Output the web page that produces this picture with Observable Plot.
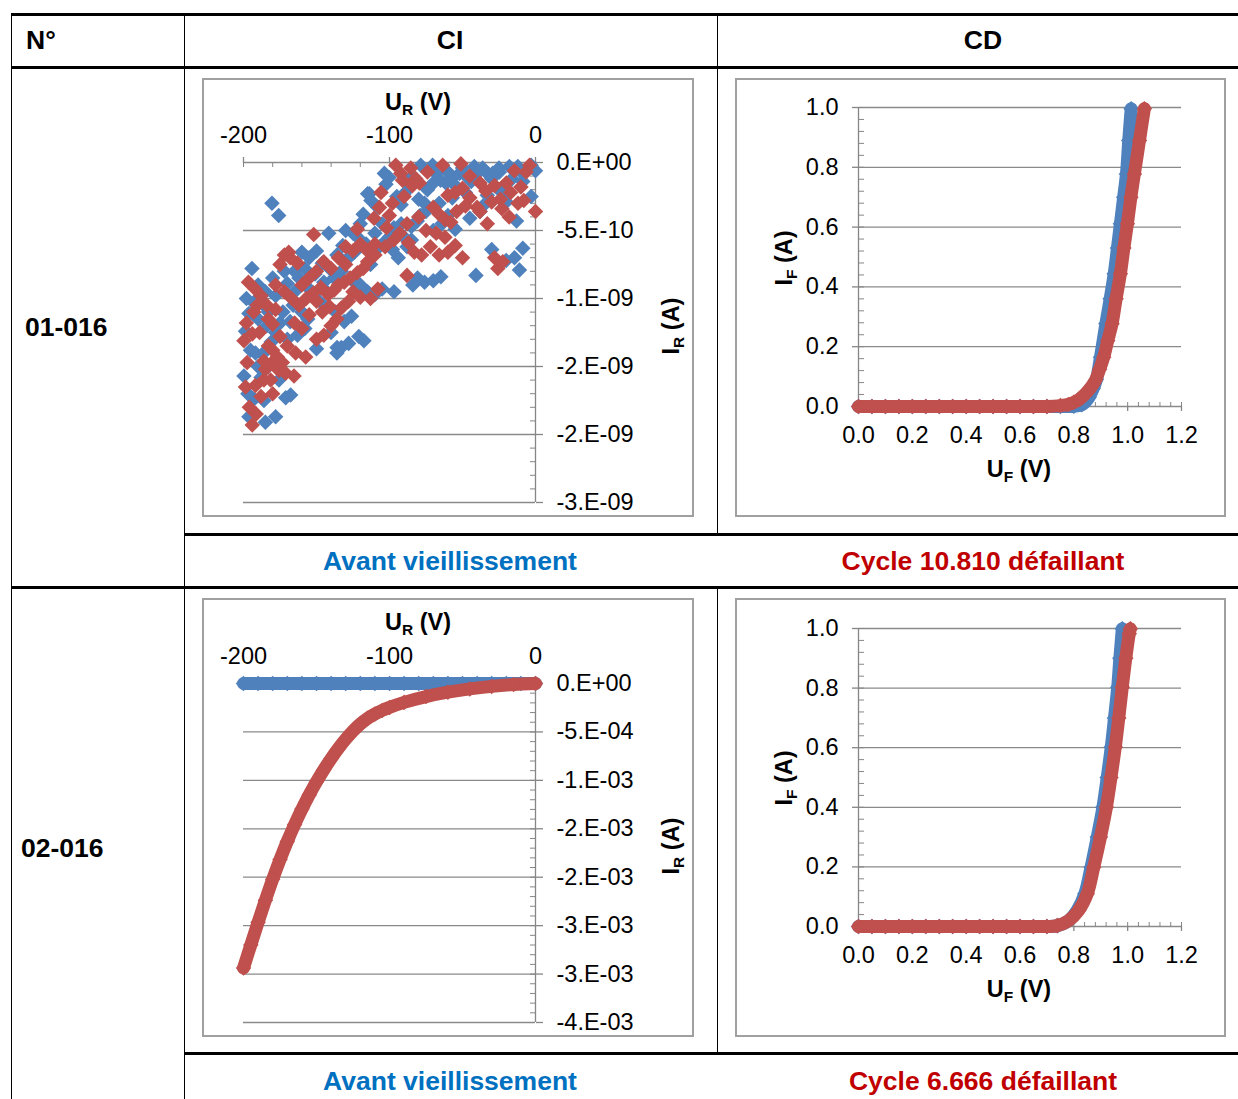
<!DOCTYPE html>
<html><head><meta charset="utf-8">
<script src="https://cdn.jsdelivr.net/npm/d3@7"></script>
<script src="https://cdn.jsdelivr.net/npm/@observablehq/plot@0.6"></script>
<style>
body{margin:0;background:#fff;font-family:"Liberation Sans",Arial,sans-serif;}
#page{position:relative;width:1238px;height:1099px;overflow:hidden;background:#fff;}
.hl{position:absolute;background:#000;height:3px;}
.vl{position:absolute;background:#000;width:1px;}
.t{position:absolute;font-weight:bold;font-size:26.5px;white-space:nowrap;transform:translate(-50%,-50%);line-height:1;}
.tl{position:absolute;font-weight:bold;font-size:26.5px;white-space:nowrap;transform:translate(0,-50%);line-height:1;}
.box{position:absolute;border:2px solid #a0a0a0;box-sizing:border-box;}
.ax{position:absolute;font-weight:bold;font-size:23.5px;white-space:nowrap;transform:translate(-50%,-50%);line-height:1;}
.ax sub{font-size:0.66em;vertical-align:-0.28em;line-height:0;}
.rot{transform:translate(-50%,-50%) rotate(-90deg);}
.chart{position:absolute;}
.chart svg{overflow:visible;}
</style></head><body><div id="page"></div>
<script>
// ---------- DATA ----------
const BLUE = "#4F81BD", RED = "#C0504D";
const headers = ["N°", "CI", "CD"];
const rowIds = ["01-016", "02-016"];
const captionsBefore = ["Avant vieillissement", "Avant vieillissement"];
const captionsAfter = ["Cycle 10.810 défaillant", "Cycle 6.666 défaillant"];

// CI axes (U_R in V)
const ciXTicks = [-200, -100, 0];
const ciXLabels = ["-200", "-100", "0"];
const ciXMinor = [-200, -180, -160, -140, -120, -100, -80, -60, -40, -20, 0];
// CI chart 1, I_R in nA
const ci1YTicks = [0, -0.5, -1, -1.5, -2, -2.5];
const ci1YLabels = ["0.E+00", "-5.E-10", "-1.E-09", "-2.E-09", "-2.E-09", "-3.E-09"];
// CI chart 2, I_R in mA
const ci2YTicks = [0, -0.5, -1, -1.5, -2, -2.5, -3, -3.5];
const ci2YLabels = ["0.E+00", "-5.E-04", "-1.E-03", "-2.E-03", "-2.E-03", "-3.E-03", "-3.E-03", "-4.E-03"];

// CD axes
const cdXTicks = [0, 0.2, 0.4, 0.6, 0.8, 1.0, 1.2];
const cdXLabels = ["0.0", "0.2", "0.4", "0.6", "0.8", "1.0", "1.2"];
const cdYTicks = [0, 0.2, 0.4, 0.6, 0.8, 1.0];
const cdYLabels = ["0.0", "0.2", "0.4", "0.6", "0.8", "1.0"];

// CI 01-016 : [U_R (V), I_R (nA)]
const ci1Blue = [
[-103.5,-0.08],[-102.4,-0.16],[-113.8,-0.23],[-112.7,-0.28],[-100.3,-0.11],[-115,-0.23],
[-78.6,-0.02],[-70.5,-0.02],[-41.9,-0.03],[-36.2,-0.04],[-17.9,-0.03],[-12.1,-0.03],[0,-0.06],[-3,-0.02],
[-8.7,-0.14],[-9.8,-0.07],[-68.2,-0.08],[-65,-0.13],[-61.4,-0.15],[-56.8,-0.11],[-52,-0.08],[-47.6,-0.10],
[-44,-0.14],[-40.8,-0.09],[-33.9,-0.07],[-29.3,-0.08],[-24.7,-0.07],[-30,-0.12],[-55,-0.17],[-60,-0.07],
[-86,-0.18],[-90,-0.23],[-66,-0.30],[-57,-0.26],[-22,-0.26],[-20,-0.29],[-33,-0.24],[-36,-0.32],[-13,-0.43],
[-48,-0.22],[-74,-0.20],[-80,-0.27],[-95,-0.25],[-108,-0.33],[-84,-0.10],[-92,-0.31],
[-75,-0.36],[-79,-0.39],[-81,-0.43],[-92,-0.45],[-97,-0.48],[-100,-0.55],[-103,-0.58],[-110,-0.52],
[-107,-0.62],[-98,-0.64],[-94,-0.70],[-88,-0.62],[-85,-0.57],[-116,-0.60],[-120,-0.57],[-124,-0.66],
[-128,-0.70],[-132,-0.61],[-136,-0.68],[-141.6,-0.52],[-141,-0.78],[-146,-0.74],[-151,-0.82],[-155,-0.93],
[-158,-0.78],[-162,-0.85],[-165,-0.95],[-166,-1.05],[-170,-0.89],[-150,-1.0],[-145,-1.05],[-143,-0.95],
[-137,-1.10],[-131,-1.17],[-126,-1.13],[-121,-1.28],[-117.5,-1.31],[-135.9,-1.36],[-160,-1.1],[-156,-1.15],
[-64,-0.45],[-60,-0.39],[-55,-0.49],[-45,-0.41],[-38,-0.36],[-25,-0.20],[-3,-0.25],[-70,-0.50],[-113,-0.75],
[-196.3,-1.11],[-198.6,-1.24],[-195.2,-1.38],[-199.7,-1.57],[-192.9,-1.74],[-186,-1.75],[-196.3,-1.87],
[-185,-1.91],[-178,-1.87],[-171.1,-1.73],[-167.7,-1.71],[-175.7,-1.60],[-187.1,-1.41],[-191.8,-1.40],
[-178,-1.25],[-184,-1.20],[-194.2,-0.78],[-180.5,-0.30],[-175.9,-0.39],[-181,-1.32],[-170,-1.30],[-163,-1.27],
[-158,-1.22],[-150,-1.37],[-136,-1.40],[-133,-1.36],[-128,-1.33],[-140,-1.25],[-186,-1.05],
[-193,-1.03],[-178,-0.98],[-173,-1.10],[-188,-1.58],[-183,-1.50],[-190,-0.90],
[-80.8,-0.85],[-76,-0.88],[-70,-0.87],[-64.8,-0.84],[-84,-0.90],[-96.9,-0.95],[-105,-0.93],[-40.8,-0.83],
[-14.4,-0.70],[-8.7,-0.63],[-11,-0.79],[-20.1,-0.72],[-30,-0.64],
[-120,-0.45],[-125,-0.52],[-130,-0.50],[-118,-0.38],[-105,-0.45],[-150,-0.65],[-155,-0.70],[-160,-0.66],
[-165,-0.80],[-172,-0.80],[-180,-0.85],[-185,-0.95],[-190,-1.15],[-198,-1.00],[-183,-1.10],[-175,-1.18],
[-168,-1.17],[-145,-0.88],[-138,-0.85],[-133,-0.80],[-126,-0.86],[-120,-0.90],[-115,-0.95],[-110,-0.97],
[-90,-0.55],[-85,-0.47],[-76,-0.30],[-70,-0.15],[-50,-0.04],[-25,-0.04],[-16,-0.12],[-197,-1.70],[-190,-1.50]
];
const ci1Red = [
[-95.7,-0.02],[-85.4,-0.04],[-63.6,-0.02],[-51.1,-0.01],[-4.1,-0.02],[-6.4,-0.07],[-14.4,-0.06],
[-92.3,-0.08],[-91.1,-0.13],[-82,-0.12],[-79.5,-0.15],[-84.3,-0.17],[-74,-0.07],[-105.8,-0.22],
[-106.9,-0.33],[-110.6,-0.41],[-100.1,-0.39],[-122,-0.49],[-151.9,-0.53],[-60,-0.24],[-55,-0.22],
[-50,-0.19],[-45,-0.26],[-40,-0.33],[-38,-0.36],[-34,-0.21],[-28,-0.17],[-24,-0.27],[-20,-0.15],
[-17,-0.22],[-10,-0.18],[0,-0.36],[-12,-0.30],[-23,-0.34],[-30,-0.29],[-70,-0.33],[-66,-0.38],
[-62,-0.42],[-58,-0.44],[-54,-0.36],[-48,-0.32],[-88,-0.45],[-93,-0.52],[-97,-0.57],[-87,-0.59],
[-103,-0.62],[-110,-0.68],[-115,-0.73],[-118,-0.78],[-122,-0.81],[-127,-0.85],[-131,-0.88],[-135,-0.90],
[-138,-0.94],[-142,-0.97],[-130,-0.75],[-125,-0.95],[-120,-0.99],[-113,-1.0],[-108,-0.93],[-145,-0.73],
[-150,-0.80],[-155,-0.85],[-160,-0.90],[-163,-0.74],[-168,-0.70],[-172,-0.68],[-175,-0.75],[-150,-1.02],
[-146,-1.10],[-141,-1.06],[-136,-1.15],[-133,-1.07],[-128,-1.02],[-155,-1.12],[-160,-1.22],[-165,-1.18],
[-170,-1.35],[-175,-1.28],[-180,-1.19],[-184,-1.05],[-188,-0.98],[-196.6,-0.88],[-192,-0.93],[-178,-0.90],
[-190.6,-1.05],[-199.7,-1.31],[-194,-1.26],[-197.5,-1.47],[-198.6,-1.65],[-191.8,-1.64],[-191.3,-1.85],
[-194,-1.93],[-181.4,-1.60],[-175.7,-1.53],[-171.1,-1.55],[-165.4,-1.57],[-185,-1.52],[-186,-1.46],
[-180.3,-1.47],[-176.8,-1.43],[-173.4,-1.47],[-157.4,-1.43],[-164.3,-1.40],[-188,-1.72],[-180,-1.70],
[-150,-1.30],[-145,-1.27],[-140,-1.20],[-183,-1.35],
[-83,-0.66],[-78,-0.68],[-72,-0.62],[-66,-0.68],[-60,-0.66],[-55,-0.61],[-50,-0.70],[-88,-0.83],
[-25.8,-0.78],[-22.4,-0.73],[-28,-0.70],[-110,-0.60],[-116,-0.64],[-169,-0.66],
[-120,-0.60],[-125,-0.65],[-130,-0.62],[-135,-0.70],[-140,-0.78],[-147,-0.92],[-152,-0.96],[-157,-1.00],
[-162,-1.05],[-167,-1.00],[-172,-0.95],[-178,-1.08],[-183,-1.15],[-189,-1.25],[-193,-1.10],[-198,-1.18],
[-102,-0.48],[-98,-0.30],[-90,-0.25],[-80,-0.40],[-75,-0.50],[-68,-0.52],[-62,-0.55],[-45,-0.10],
[-38,-0.15],[-33,-0.45],[-18,-0.40],[-8,-0.28],[-196,-1.80],[-186,-1.60],[-180,-1.38]
];

// CI 02-016 : [U_R (V), I_R (mA)]
const ci2Blue = [[-200,0],[-190,0],[-180,0],[-170,0],[-160,0],[-150,0],[-140,0],[-130,0],[-120,0],[-110,0],
[-100,0],[-90,0],[-80,0],[-70,0],[-60,0],[-50,0],[-40,0],[-30,0],[-20,0],[-10,0],[0,0]];
const ci2Red = [[-200,-2.937],[-195,-2.70],[-190,-2.466],[-185,-2.238],[-180,-2.02],[-175,-1.818],
[-170,-1.63],[-165,-1.457],[-160,-1.297],[-155,-1.15],[-150,-1.015],[-145,-0.89],[-140,-0.775],
[-135,-0.67],[-130,-0.575],[-125,-0.49],[-120,-0.418],[-115,-0.36],[-110,-0.315],[-105,-0.278],
[-100,-0.247],[-90,-0.195],[-75,-0.135],[-60,-0.09],[-45,-0.056],[-30,-0.03],[-15,-0.011],[0,0]];

// CD : [U_F (V), I_F (A)]
const cd1Blue = [[0,0],[0.05,0],[0.1,0],[0.15,0],[0.2,0],[0.25,0],[0.3,0],[0.35,0],[0.4,0],[0.45,0],[0.5,0],
[0.55,0],[0.6,0],[0.65,0],[0.7,0],[0.75,0],[0.80,0.001],[0.83,0.006],[0.856,0.03],[0.872,0.06],[0.884,0.09],
[0.899,0.165],[0.919,0.277],[0.935,0.36],[0.950,0.444],[0.962,0.53],[0.973,0.611],[0.985,0.70],[0.9955,0.778],
[1.004,0.89],[1.013,0.996]];
const cd1Red = [[0,0],[0.05,0],[0.1,0],[0.15,0],[0.2,0],[0.25,0],[0.3,0],[0.35,0],[0.4,0],[0.45,0],[0.5,0],
[0.55,0],[0.6,0],[0.65,0],[0.7,0],[0.75,0.003],[0.78,0.007],[0.80,0.014],[0.82,0.024],[0.837,0.037],[0.86,0.06],
[0.880,0.087],[0.896,0.125],[0.911,0.165],[0.926,0.22],[0.942,0.277],[0.957,0.36],[0.973,0.444],[0.986,0.53],
[0.999,0.611],[1.012,0.70],[1.025,0.778],[1.044,0.89],[1.062,0.996]];
const cd2Blue = [[0,0],[0.05,0],[0.1,0],[0.15,0],[0.2,0],[0.25,0],[0.3,0],[0.35,0],[0.4,0],[0.45,0],[0.5,0],
[0.55,0],[0.6,0],[0.65,0],[0.7,0],[0.74,0.003],[0.781,0.02],[0.812,0.054],[0.841,0.11],[0.864,0.199],
[0.887,0.30],[0.908,0.40],[0.924,0.50],[0.939,0.602],[0.951,0.70],[0.963,0.803],[0.971,0.90],[0.980,0.999]];
const cd2Red = [[0,0],[0.05,0],[0.1,0],[0.15,0],[0.2,0],[0.25,0],[0.3,0],[0.35,0],[0.4,0],[0.45,0],[0.5,0],
[0.55,0],[0.6,0],[0.65,0],[0.7,0],[0.738,0.003],[0.781,0.02],[0.818,0.054],[0.850,0.11],[0.874,0.199],
[0.899,0.30],[0.921,0.40],[0.938,0.50],[0.954,0.602],[0.967,0.70],[0.980,0.803],[0.993,0.90],[1.006,0.982],[1.010,0.999]];

// ---------- DRAWING ----------
const AXIS = "#868686", GRID = "#8a8a8a";
const FONT = "'Liberation Sans', Arial, sans-serif";
const DOT_R = 7, BAND = 13;
const page = document.getElementById("page");

function el(cls, style, html) {
  const d = document.createElement("div");
  d.className = cls;
  Object.assign(d.style, style);
  if (html != null) d.innerHTML = html;
  page.appendChild(d);
  return d;
}

function series(data, color) {
  return [
    Plot.line(data, {x: d => d[0], y: d => d[1], stroke: color, strokeWidth: BAND, strokeLinejoin: "round", curve: "catmull-rom"}),
    Plot.dot(data, {x: d => d[0], y: d => d[1], symbol: "diamond2", r: DOT_R, fill: color, stroke: "none"})
  ];
}
function scatter(data, color) {
  return [Plot.dot(data, {x: d => d[0], y: d => d[1], symbol: "diamond2", r: DOT_R, fill: color, stroke: "none"})];
}

function ciPlot(yTicks, yLabels, marginTop, dataMarks) {
  const W = 492, H = 439, ml = 41, mr = 159, mb = 15;
  const iw = W - ml - mr, ih = H - marginTop - mb;
  const yMin = yTicks[yTicks.length - 1];
  const yMinor = d3.range(0, yMin - 0.05, -0.1);
  return Plot.plot({
    width: W, height: H, marginLeft: ml, marginRight: mr, marginTop, marginBottom: mb,
    x: {domain: [-200, 0]}, y: {domain: [yMin, 0]},
    style: {fontFamily: FONT, fontSize: "23.5px", color: "#000", background: "transparent", overflow: "visible"},
    marks: [
      Plot.ruleY(yTicks, {x1: -200, x2: 0, stroke: GRID, strokeWidth: 1.3}),
      Plot.ruleX([0], {y1: yMin, y2: 0, stroke: AXIS, strokeWidth: 1.3}),
      Plot.axisY(yTicks, {anchor: "right", tickSize: 7, tickPadding: 14, strokeWidth: 1.3,
        tickFormat: d => yLabels[yTicks.indexOf(d)], stroke: AXIS, fill: "#000", fontSize: 23.5, label: null}),
      Plot.axisY(yMinor, {anchor: "left", dx: iw, tickSize: 5, fill: "none", stroke: AXIS, label: null}),
      Plot.axisX(ciXTicks, {anchor: "top", tickSize: 6, tickPadding: 14, strokeWidth: 1.3,
        tickFormat: d => ciXLabels[ciXTicks.indexOf(d)], stroke: AXIS, fill: "#000", fontSize: 23.5, label: null}),
      Plot.axisX(ciXMinor, {anchor: "bottom", dy: -ih, tickSize: 5, fill: "none", stroke: AXIS, label: null}),
      ...dataMarks
    ]
  });
}

function cdPlot(marginTop, dataMarks) {
  const W = 491, H = 439, ml = 123, mr = 45, mb = 111;
  const iw = W - ml - mr, ih = H - marginTop - mb;
  const minor = d3.range(0, 1.2001, 0.04);
  const yMinor = d3.range(0, 1.0001, 0.04);
  return Plot.plot({
    width: W, height: H, marginLeft: ml, marginRight: mr, marginTop, marginBottom: mb,
    x: {domain: [0, 1.2]}, y: {domain: [0, 1]},
    style: {fontFamily: FONT, fontSize: "23.5px", color: "#000", background: "transparent", overflow: "visible"},
    marks: [
      Plot.ruleY(cdYTicks, {x1: 0, x2: 1.2, stroke: GRID, strokeWidth: 1.3}),
      Plot.ruleX([0], {y1: 0, y2: 1, stroke: AXIS, strokeWidth: 1.3}),
      Plot.axisY(cdYTicks, {anchor: "left", tickSize: 6, tickPadding: 14, strokeWidth: 1.3,
        tickFormat: d => cdYLabels[cdYTicks.indexOf(d)], stroke: AXIS, fill: "#000", fontSize: 23.5, label: null}),
      Plot.axisY(yMinor, {anchor: "right", dx: -iw, tickSize: 5, fill: "none", stroke: AXIS, label: null}),
      Plot.axisX(cdXTicks, {anchor: "bottom", tickSize: 5, tickPadding: 15, strokeWidth: 1.3,
        tickFormat: d => cdXLabels[cdXTicks.indexOf(d)], stroke: AXIS, fill: "#000", fontSize: 23.5, label: null}),
      Plot.axisX(minor, {anchor: "top", dy: ih, tickSize: 5, fill: "none", stroke: AXIS, label: null}),
      ...dataMarks
    ]
  });
}

// Table lines
el("hl", {left: "11px", top: "13px", width: "1240px"});
el("hl", {left: "11px", top: "66px", width: "1240px"});
el("hl", {left: "184px", top: "533px", width: "1060px"});
el("hl", {left: "11px", top: "586px", width: "1240px"});
el("hl", {left: "184px", top: "1052px", width: "1060px"});
el("vl", {left: "11px", top: "13px", height: "1100px"});
el("vl", {left: "184px", top: "13px", height: "1100px"});
el("vl", {left: "717px", top: "13px", height: "522px"});
el("vl", {left: "717px", top: "586px", height: "468px"});

// Header & texts
el("tl", {left: "26px", top: "40px"}, headers[0]);
el("t", {left: "450px", top: "40px"}, headers[1]);
el("t", {left: "983px", top: "40px"}, headers[2]);
el("tl", {left: "25px", top: "327px"}, rowIds[0]);
el("tl", {left: "21px", top: "848px"}, rowIds[1]);
el("t", {left: "450px", top: "561px", color: "#0070C0"}, captionsBefore[0]);
el("t", {left: "983px", top: "561px", color: "#C00000"}, captionsAfter[0]);
el("t", {left: "450px", top: "1081px", color: "#0070C0"}, captionsBefore[1]);
el("t", {left: "983px", top: "1081px", color: "#C00000"}, captionsAfter[1]);

// Chart boxes
const rowsTop = [78, 598];
rowsTop.forEach(top => {
  el("box", {left: "202px", top: top + "px", width: "492px", height: "439px"});
  el("box", {left: "735px", top: top + "px", width: "491px", height: "439px"});
});

function place(svg, left, top) {
  const d = el("chart", {left: left + "px", top: top + "px"});
  d.appendChild(svg);
}

place(ciPlot(ci1YTicks, ci1YLabels, 84, [...scatter(ci1Blue, BLUE), ...scatter(ci1Red, RED)]), 202, 78);
place(ciPlot(ci2YTicks, ci2YLabels, 85, [...series(ci2Blue, BLUE), ...series(ci2Red, RED)]), 202, 598);
place(cdPlot(29, [...series(cd1Blue, BLUE), ...series(cd1Red, RED)]), 735, 78);
place(cdPlot(30, [...series(cd2Blue, BLUE), ...series(cd2Red, RED)]), 735, 598);

// Axis titles
rowsTop.forEach(top => {
  el("ax", {left: "418px", top: (top + 25) + "px"}, "U<sub>R</sub> (V)");
  el("ax rot", {left: "672px", top: (top + 248) + "px"}, "I<sub>R</sub> (A)");
  el("ax rot", {left: "785px", top: (top + 180) + "px"}, "I<sub>F</sub> (A)");
  el("ax", {left: "1019px", top: (top + 392) + "px"}, "U<sub>F</sub> (V)");
});
</script></body></html>
